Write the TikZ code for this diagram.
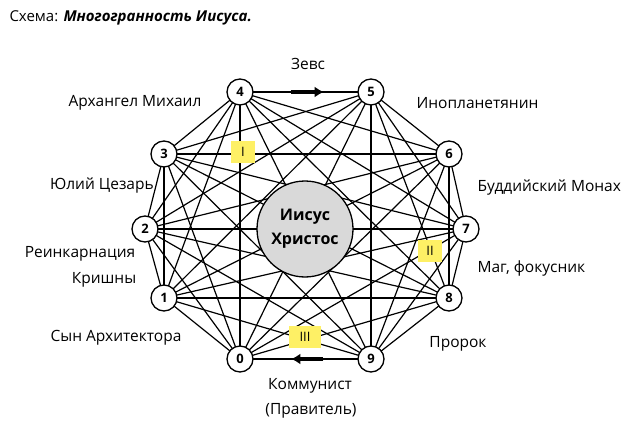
\documentclass[tikz,border=0pt]{standalone}
\usepackage{fontspec}
\setmainfont{Open Sans}
\usetikzlibrary{arrows.meta}
\begin{document}
\begin{tikzpicture}[x=1pt,y=-1pt,
 num/.style={circle,draw,line width=1.3pt,fill=white,minimum size=26pt,inner sep=0pt,font=\fontsize{13}{14}\selectfont\bfseries},
 lbl/.style={font=\fontsize{15.5}{17}\selectfont},
 tag/.style={fill=yellow!90!orange!60,minimum width=24pt,minimum height=22pt,inner sep=0pt,font=\fontsize{13}{14}\selectfont},
 edge/.style={line width=1.2pt}]
\useasboundingbox (0,0) rectangle (640,433);
\fill[white] (0,0) rectangle (640,433);
\node[anchor=west,font=\fontsize{15}{17}\selectfont] (title) at (6,18) {Схема: \textbf{\textit{Многогранность Иисуса.}}};
\coordinate (p4) at (240,92); \coordinate (p5) at (371,92);
\coordinate (p6) at (449,154); \coordinate (p7) at (466,229);
\coordinate (p8) at (449,298); \coordinate (p9) at (371,359);
\coordinate (p0) at (240,359); \coordinate (p1) at (164,298);
\coordinate (p2) at (145,229); \coordinate (p3) at (164,154);
\foreach \a in {0,...,9}{\foreach \b in {0,...,9}{\ifnum\a<\b \draw[edge] (p\a)--(p\b);\fi}}
\node[circle,draw,line width=1.3pt,fill=black!15,minimum size=96pt,font=\fontsize{16}{24}\selectfont\bfseries,align=center] (c) at (305,229) {Иисус\\Христос};
\foreach \i in {0,...,9}{\node[num] (n\i) at (p\i) {\i};}
\draw[line width=3.5pt,-{Latex[length=9pt,width=11pt]}] ([xshift=37pt]n4.east) -- ([xshift=70pt]n4.east);
\draw[line width=3.5pt,-{Latex[length=9pt,width=11pt]}] ([xshift=-34pt]n9.west) -- ([xshift=-66pt]n9.west);
\node[tag] (t1) at (243,152) {I};
\node[tag] (t2) at (430,251) {II};
\node[tag,minimum width=32pt] (t3) at (305,337) {III};
\node[lbl] (l4) at (308,64) {Зевс};
\node[lbl] (l4b) at (135,103) {Архангел Михаил};
\node[lbl,anchor=west] (l5) at (413,103) {Инопланетянин};
\node[lbl] (l2) at (102,186) {Юлий Цезарь};
\node[lbl,anchor=west] (l6) at (474,188) {Буддийский Монах};
\node[lbl] (l1a) at (80,254) {Реинкарнация};
\node[lbl] (l1b) at (104,280) {Кришны};
\node[lbl,anchor=west] (l7) at (474,268) {Маг, фокусник};
\node[lbl] (l0) at (116,338) {Сын Архитектора};
\node[lbl] (l8) at (458,344) {Пророк};
\node[lbl] (l9a) at (310,386) {Коммунист};
\node[lbl] (l9b) at (311,411) {(Правитель)};
\end{tikzpicture}
\end{document}
